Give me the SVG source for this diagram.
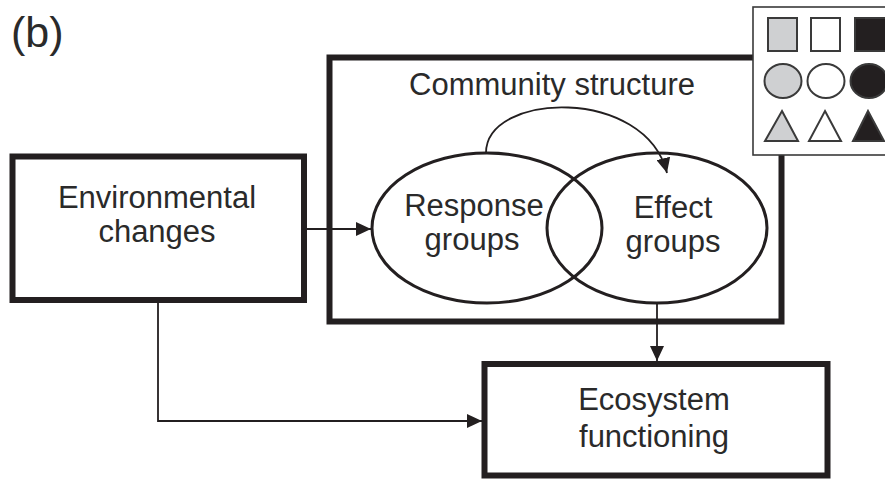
<svg xmlns="http://www.w3.org/2000/svg" width="885" height="479" viewBox="0 0 885 479">
<defs>
<style>
.box{fill:#fff;stroke:#231f20;stroke-width:6}
.ell{fill:none;stroke:#231f20;stroke-width:3}
.lbl{font-family:"Liberation Sans",Arial,sans-serif;font-size:31px;fill:#2a2a2a;text-anchor:middle}
.con{fill:none;stroke:#231f20;stroke-width:1.8}
.leg{stroke:#3a3a3a;stroke-width:2}
.g{fill:#cfd0d2}.w{fill:#fff}.k{fill:#231f20}
</style>
<marker id="ah" viewBox="0 0 15 14" refX="15" refY="7" markerWidth="15" markerHeight="14" markerUnits="userSpaceOnUse" orient="auto">
<path d="M0,0 L15,7 L0,14 z" fill="#231f20"/>
</marker>
</defs>
<rect width="885" height="479" fill="#fff"/>
<text x="11" y="47" font-family="'Liberation Sans',Arial,sans-serif" font-size="43" fill="#2a2a2a">(b)</text>

<g id="community">
<rect class="box" x="329.5" y="57.5" width="452" height="264"/>
<text class="lbl" x="552" y="95">Community structure</text>
</g>
<g id="env">
<rect class="box" x="12.5" y="156.5" width="291.5" height="143.5"/>
<text class="lbl" x="157" y="208">Environmental</text>
<text class="lbl" x="157" y="242">changes</text>
</g>
<g id="response">
<ellipse class="ell" cx="487" cy="228" rx="115" ry="75"/>
<text class="lbl" x="474" y="216">Response</text>
<text class="lbl" x="472" y="250">groups</text>
</g>
<g id="effect">
<ellipse class="ell" cx="657" cy="228" rx="110" ry="75"/>
<text class="lbl" x="673" y="218">Effect</text>
<text class="lbl" x="673" y="252">groups</text>
</g>
<g id="ecosystem">
<rect class="box" x="484.5" y="364" width="343" height="111.5"/>
<text class="lbl" x="654" y="410">Ecosystem</text>
<text class="lbl" x="654" y="447">functioning</text>
</g>

<g id="connectors">
<line class="con" x1="304" y1="229" x2="371" y2="229" marker-end="url(#ah)"/>
<path class="con" d="M486,153 C486,92 645,86 667,173" marker-end="url(#ah)"/>
<line class="con" x1="657" y1="303" x2="657" y2="361" marker-end="url(#ah)"/>
<polyline class="con" points="158,303 158,421 482,421" marker-end="url(#ah)"/>
</g>

<g id="legend">
<rect x="753" y="7" width="140" height="148" fill="#fff" stroke="#3a3a3a" stroke-width="1.6"/>
<rect class="leg g" x="768" y="18" width="29" height="33"/>
<rect class="leg w" x="811" y="18" width="29" height="33"/>
<rect class="leg k" x="855" y="18" width="32" height="33"/>
<ellipse class="leg g" cx="783" cy="81" rx="18.5" ry="17"/>
<ellipse class="leg w" cx="826" cy="81" rx="18.5" ry="17"/>
<ellipse class="leg k" cx="869" cy="81" rx="18.5" ry="17"/>
<polygon class="leg g" points="782,111 798,141 765,141"/>
<polygon class="leg w" points="825,111 841,141 809,141"/>
<polygon class="leg k" points="868,111 884,141 853,141"/>
</g>
</svg>
